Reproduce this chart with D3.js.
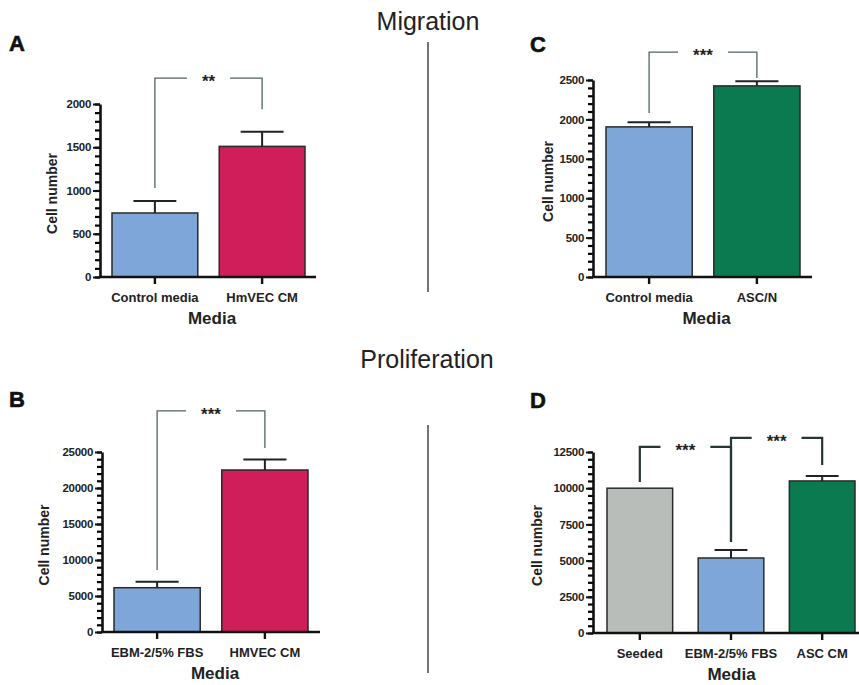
<!DOCTYPE html>
<html>
<head>
<meta charset="utf-8">
<script src="https://cdn.jsdelivr.net/npm/d3@7"></script>
<style>
  body { margin: 0; background: #fff; }
  svg { display: block; font-family: "Liberation Sans", Arial, sans-serif; }
  .tick text { font-weight: bold; }
</style>
</head>
<body>
<svg width="859" height="685"></svg>
<script>
// values
const aLabels = ['Control media', 'HmVEC CM'];
const aMeans = [740, 1510];
const aSem = [140, 170];
const aTicks = [0, 500, 1000, 1500, 2000];

const cLabels = ['Control media', 'ASC/N'];
const cMeans = [1905, 2425];
const cSem = [60, 60];
const cTicks = [0, 500, 1000, 1500, 2000, 2500];

const bLabels = ['EBM-2/5% FBS', 'HMVEC CM'];
const bMeans = [6150, 22500];
const bSem = [830, 1450];
const bTicks = [0, 5000, 10000, 15000, 20000, 25000];

const dLabels = ['Seeded', 'EBM-2/5% FBS', 'ASC CM'];
const dMeans = [10000, 5180, 10500];
const dSem = [0, 560, 340];
const dTicks = [0, 2500, 5000, 7500, 10000, 12500];

// brackets: [from, to, top, left foot, right foot, stars]
const aBrackets = [[0, 1, 2300, 1030, 1940, '**']];
const cBrackets = [[0, 1, 2855, 2080, 2525, '***']];
const bBrackets = [[0, 1, 30700, 8600, 25550, '***']];
const dBrackets = [[0, 1, 12850, 10430, 6280, '***'], [1, 2, 13470, 6280, 11600, '***']];

const blue = '#7fa6d9', red = '#d01e5a', green = '#0b7a50', grey = '#b9bdb9';

const svg = d3.select('svg');

const panel = (o) => {
    const g = svg.append('g');
    const x = d3.scaleBand().domain(o.labels).range(o.xr).paddingInner(o.pad);
    const y = d3.scaleLinear().domain([0, d3.max(o.ticks)]).range(o.yr);

    // minor ticks
    const minor = d3.range(0, d3.max(o.ticks) + 1, o.minor);
    const minorAxis = g.append('g').attr('transform', 'translate(' + o.ax + ',0)')
        .call(d3.axisLeft(y).tickValues(minor).tickSize(5).tickSizeOuter(0).tickFormat(() => ''));
    minorAxis.select('.domain').remove();
    minorAxis.selectAll('.tick line').attr('stroke', '#000').attr('stroke-width', 2.2);

    const yAxis = g.append('g').attr('transform', 'translate(' + o.ax + ',0)')
        .call(d3.axisLeft(y).tickValues(o.ticks).tickSize(7).tickSizeOuter(0).tickPadding(2).tickFormat(d3.format('d')));
    yAxis.select('.domain').attr('stroke', '#111').attr('stroke-width', 2.6);
    yAxis.selectAll('.tick line').attr('stroke', '#111').attr('stroke-width', 2);
    yAxis.selectAll('text').attr('font-size', 11.5).attr('fill', '#222').style('letter-spacing', '-0.3px');

    // bars
    g.selectAll('rect.bar').data(o.means).enter().append('rect')
        .attr('x', (d, i) => x(o.labels[i]))
        .attr('y', d => y(d))
        .attr('width', x.bandwidth())
        .attr('height', d => y(0) - y(d))
        .attr('fill', (d, i) => o.colors[i])
        .attr('stroke', '#2a2a2a').attr('stroke-width', 1.5);

    // error bars
    o.means.forEach((m, i) => {
        if (!o.sem[i]) return;
        const cx = x(o.labels[i]) + x.bandwidth() / 2;
        const hw = x.bandwidth() / 4;
        g.append('line').attr('x1', cx).attr('x2', cx).attr('y1', y(m)).attr('y2', y(m + o.sem[i]))
            .attr('stroke', '#222').attr('stroke-width', 2);
        g.append('line').attr('x1', cx - hw).attr('x2', cx + hw).attr('y1', y(m + o.sem[i])).attr('y2', y(m + o.sem[i]))
            .attr('stroke', '#222').attr('stroke-width', 2);
    });

    // x axis
    g.append('line').attr('x1', o.ax - 1).attr('x2', o.xend).attr('y1', y(0)).attr('y2', y(0))
        .attr('stroke', '#111').attr('stroke-width', 2.6);
    const xAxis = g.append('g').attr('transform', 'translate(0,' + y(0) + ')')
        .call(d3.axisBottom(x).tickSize(7).tickSizeOuter(0).tickPadding(9));
    xAxis.select('.domain').remove();
    xAxis.selectAll('line').attr('stroke', '#111').attr('stroke-width', 2.4);
    xAxis.selectAll('text').attr('font-size', 13).attr('fill', '#222');

    // axis titles
    g.append('text').attr('x', (o.ax + o.xend) / 2 + 4).attr('y', y(0) + 47)
        .attr('text-anchor', 'middle').attr('font-size', 17).attr('font-weight', 'bold').attr('fill', '#222')
        .text('Media');
    g.append('text').attr('transform', 'translate(' + o.ylx + ',' + ((y(0) + y(d3.max(o.ticks))) / 2 + 3) + ') rotate(-90)')
        .attr('text-anchor', 'middle').attr('font-size', 14).attr('font-weight', 'bold').attr('fill', '#222')
        .text('Cell number');

    // panel letter
    g.append('text').attr('x', o.lx).attr('y', o.ly).attr('font-size', 22).attr('font-weight', 'bold')
        .attr('fill', '#111').attr('stroke', '#111').attr('stroke-width', 0.6).text(o.letter);

    // significance brackets
    o.brackets.forEach(b => {
        const x1 = x(o.labels[b[0]]) + x.bandwidth() / 2;
        const x2 = x(o.labels[b[1]]) + x.bandwidth() / 2;
        const mid = (x1 + x2) / 2;
        const t = g.append('text').attr('x', mid).attr('y', y(b[2]) + 9)
            .attr('text-anchor', 'middle').attr('font-size', 17).attr('font-weight', 'bold')
            .attr('fill', '#222').text(b[5]);
        const gap = t.node().getComputedTextLength() / 2 + 15;
        const path = d3.path();
        path.moveTo(x1, y(b[3])); path.lineTo(x1, y(b[2])); path.lineTo(mid - gap, y(b[2]));
        path.moveTo(mid + gap, y(b[2])); path.lineTo(x2, y(b[2])); path.lineTo(x2, y(b[4]));
        g.append('path').attr('d', path.toString()).attr('fill', 'none')
            .attr('stroke', o.bcol).attr('stroke-width', o.bw);
    });
};

panel({ letter: 'A', lx: 9, ly: 51, labels: aLabels, means: aMeans, sem: aSem, ticks: aTicks, minor: 100,
    colors: [blue, red], xr: [112, 305], pad: 0.2, yr: [277, 104], ax: 100, xend: 316, ylx: 57,
    brackets: aBrackets, bcol: '#4f6464', bw: 1.3 });
panel({ letter: 'C', lx: 530, ly: 52, labels: cLabels, means: cMeans, sem: cSem, ticks: cTicks, minor: 100,
    colors: [blue, green], xr: [606, 800], pad: 0.2, yr: [277, 80], ax: 593, xend: 812, ylx: 553,
    brackets: cBrackets, bcol: '#4f6464', bw: 1.3 });
panel({ letter: 'B', lx: 9, ly: 407, labels: bLabels, means: bMeans, sem: bSem, ticks: bTicks, minor: 1000,
    colors: [blue, red], xr: [114, 308], pad: 0.2, yr: [632, 452], ax: 102, xend: 320, ylx: 49,
    brackets: bBrackets, bcol: '#4f6464', bw: 1.3 });
panel({ letter: 'D', lx: 530, ly: 408, labels: dLabels, means: dMeans, sem: dSem, ticks: dTicks, minor: 500,
    colors: [grey, blue, green], xr: [607, 855], pad: 0.28, yr: [633, 452], ax: 593, xend: 862, ylx: 542,
    brackets: dBrackets, bcol: '#263636', bw: 2.2 });

// section titles and dividers
svg.append('text').attr('x', 428).attr('y', 30).attr('text-anchor', 'middle')
    .attr('font-size', 25).attr('fill', '#222').text('Migration');
svg.append('text').attr('x', 427).attr('y', 368).attr('text-anchor', 'middle')
    .attr('font-size', 25).attr('fill', '#222').text('Proliferation');
svg.append('line').attr('x1', 428).attr('x2', 428).attr('y1', 42).attr('y2', 292)
    .attr('stroke', '#444').attr('stroke-width', 1.5);
svg.append('line').attr('x1', 428).attr('x2', 428).attr('y1', 425).attr('y2', 673)
    .attr('stroke', '#444').attr('stroke-width', 1.5);
</script>
</body>
</html>
